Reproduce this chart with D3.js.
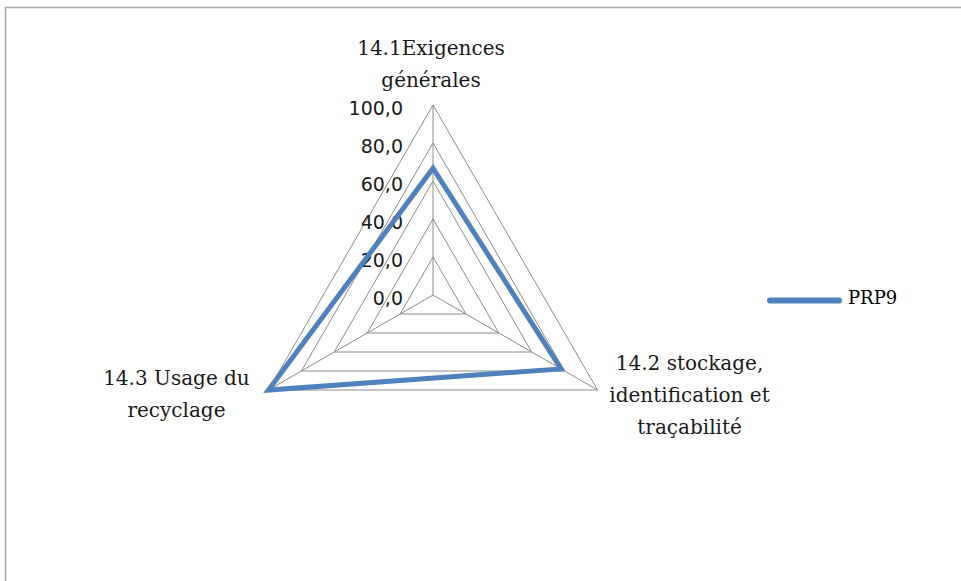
<!DOCTYPE html>
<html>
<head>
<meta charset="utf-8">
<script src="https://cdn.jsdelivr.net/npm/d3@7"></script>
<style>
  html, body { margin: 0; padding: 0; background: #ffffff; }
  svg { display: block; }
</style>
</head>
<body>
<svg id="chart" width="961" height="581"></svg>
<script>
// ---- data ----
const categories = [
  ["14.1Exigences", "générales"],
  ["14.2 stockage,", "identification et", "traçabilité"],
  ["14.3 Usage du", "recyclage"]
];
const seriesName = "PRP9";
const seriesValues = [66.7, 77.8, 100.0];
const tickValues = [0, 20, 40, 60, 80, 100];
const tickLabels = ["0,0", "20,0", "40,0", "60,0", "80,0", "100,0"];

// ---- layout ----
const svg = d3.select("#chart");
const W = 961, H = 581;
const cx = 433, cy = 295, R = 190;

// frame (cropped chart area border)
svg.append("rect")
  .attr("x", 5.5).attr("y", 7.5)
  .attr("width", W + 20).attr("height", H + 20)
  .attr("fill", "#ffffff")
  .attr("stroke", "#a6a6a6")
  .attr("stroke-width", 1.5);

const r = d3.scaleLinear().domain([0, 100]).range([0, R]);
const n = categories.length;
const angle = d3.scaleLinear().domain([0, n]).range([0, 2 * Math.PI]);
const pt = (i, v) => {
  const a = angle(i);
  return [cx + r(v) * Math.sin(a), cy - r(v) * Math.cos(a)];
};

const g = svg.append("g");

// grid rings
const line = d3.line();
tickValues.filter(t => t > 0).forEach(t => {
  const pts = d3.range(n).map(i => pt(i, t));
  g.append("path")
    .attr("d", line(pts) + "Z")
    .attr("fill", "none")
    .attr("stroke", "#8c8c8c")
    .attr("stroke-width", 1);
});

// spokes
d3.range(n).forEach(i => {
  const [x, y] = pt(i, 100);
  g.append("line")
    .attr("x1", cx).attr("y1", cy)
    .attr("x2", x).attr("y2", y)
    .attr("stroke", "#8c8c8c")
    .attr("stroke-width", 1);
});

// tick labels
g.selectAll("text.tick")
  .data(tickValues)
  .enter().append("text")
  .attr("class", "tick")
  .attr("x", cx - 30)
  .attr("y", d => cy - r(d) + 4)
  .attr("text-anchor", "end")
  .attr("dominant-baseline", "middle")
  .attr("font-family", "'DejaVu Sans', sans-serif")
  .attr("font-size", 19)
  .attr("fill", "#1a1a1a")
  .text((d, i) => tickLabels[i]);

// data series
const dataPts = seriesValues.map((v, i) => pt(i, v));
g.append("path")
  .attr("d", line(dataPts) + "Z")
  .attr("fill", "none")
  .attr("stroke", "#4f81bd")
  .attr("stroke-width", 5)
  .attr("stroke-linejoin", "miter");

// category labels
const labelPos = [
  { dx: -2, dy: -56, anchor: "middle" },   // relative to top vertex (first line center)
  { dx: 92, dy: -26, anchor: "middle" },
  { dx: -92, dy: -11, anchor: "middle" }
];
const lineH = 32;
categories.forEach((lines, i) => {
  const [vx, vy] = pt(i, 100);
  const p = labelPos[i];
  const t = g.append("text")
    .attr("font-family", "'DejaVu Serif', serif")
    .attr("font-size", 20)
    .attr("fill", "#1a1a1a")
    .attr("text-anchor", p.anchor);
  lines.forEach((s, k) => {
    t.append("tspan")
      .attr("x", vx + p.dx)
      .attr("y", vy + p.dy + k * lineH)
      .attr("dominant-baseline", "middle")
      .text(s);
  });
});

// legend
const lg = svg.append("g");
lg.append("line")
  .attr("x1", 770).attr("x2", 839)
  .attr("y1", 300.5).attr("y2", 300.5)
  .attr("stroke", "#4f81bd")
  .attr("stroke-width", 6)
  .attr("stroke-linecap", "round");
lg.append("text")
  .attr("x", 848).attr("y", 299)
  .attr("dominant-baseline", "middle")
  .attr("font-family", "'DejaVu Serif', serif")
  .attr("font-size", 18)
  .attr("fill", "#000")
  .text(seriesName);
</script>
</body>
</html>
